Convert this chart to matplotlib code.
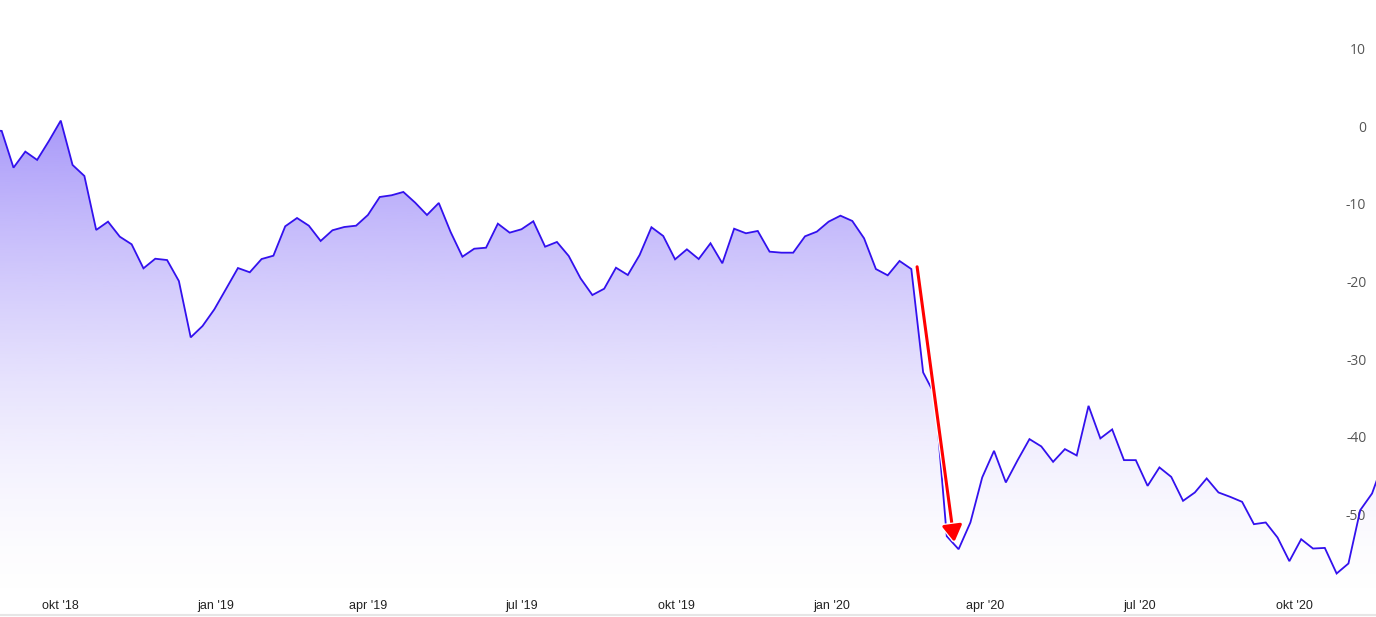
import numpy as np
import pandas as pd
import matplotlib
matplotlib.use("Agg")
import matplotlib.pyplot as plt
import matplotlib.dates as mdates
import matplotlib.patheffects as pe

# ---- data -------------------------------------------------------------
start_date = "2018-08-20"
values = [
    -0.45,
    -0.58, -5.32, -3.25, -4.32, -1.87, 0.75, -4.97, -6.39, -13.35, -12.28,
    -14.22, -15.20, -18.30, -17.06, -17.23, -19.94, -27.20, -25.74, -23.59, -20.93,
    -18.26, -18.81, -17.10, -16.67, -12.88, -11.81, -12.80, -14.77, -13.39, -12.97,
    -12.80, -11.42, -9.10, -8.88, -8.45, -9.83, -11.42, -9.87, -13.61, -16.80,
    -15.77, -15.64, -12.54, -13.70, -13.26, -12.23, -15.51, -14.90, -16.71, -19.59,
    -21.74, -20.93, -18.22, -19.16, -16.58, -13.00, -14.13, -17.14, -15.85, -17.10,
    -15.07, -17.65, -13.19, -13.78, -13.48, -16.15, -16.28, -16.28, -14.17, -13.57,
    -12.28, -11.51, -12.19, -14.43, -18.39, -19.20, -17.35, -18.39, -31.72, -34.65,
    -52.84, -54.52, -51.07, -45.26, -41.83, -45.91, -43.03, -40.32, -41.26, -43.25,
    -41.61, -42.43, -36.03, -40.23, -39.07, -43.03, -43.03, -46.35, -43.97, -45.19,
    -48.28, -47.20, -45.39, -47.20, -47.77, -48.41, -51.29, -51.07, -53.01, -56.06,
    -53.23, -54.43, -54.35, -57.65, -56.36, -49.48, -47.33, -43.10,
]
dates = pd.date_range(start_date, periods=len(values), freq="7D")

x_tick_dates = ["2018-10-01", "2019-01-01", "2019-04-01", "2019-07-01", "2019-10-01",
                "2020-01-01", "2020-04-01", "2020-07-01", "2020-10-01"]
x_tick_labels = ["okt '18", "jan '19", "apr '19", "jul '19", "okt '19",
                 "jan '20", "apr '20", "jul '20", "okt '20"]
y_ticks = [10, 0, -10, -20, -30, -40, -50]
y_tick_labels = ["10", "0", "-10", "-20", "-30", "-40", "-50"]

x_range = ("2018-08-26 00:00", "2020-11-18 08:00")
y_range = (-63.0, 16.3)

arrow_start = ("2020-02-20 10:00", -18.1)
arrow_end = ("2020-03-13 12:00", -53.6)

# ---- figure -----------------------------------------------------------
fig = plt.figure(figsize=(13.76, 6.17), dpi=100)
ax = fig.add_axes([0.0, 2 / 617, 1.0, 615 / 617])

xnum = mdates.date2num(dates)
vals = np.array(values)
x0 = mdates.date2num(pd.Timestamp(x_range[0]))
x1 = mdates.date2num(pd.Timestamp(x_range[1]))

# gradient fill under the line
poly = ax.fill_between(xnum, vals, y_range[0], facecolor="none", edgecolor="none")
n = 400
f = np.linspace(0, 1, n)[:, None]          # 0 at top, 1 at bottom
alpha = 0.56 * (1 - f) ** 1.7
rgba = np.zeros((n, 1, 4))
rgba[..., 0] = 100 / 255
rgba[..., 1] = 72 / 255
rgba[..., 2] = 245 / 255
rgba[..., 3] = alpha
top_val = vals.max()
img = ax.imshow(rgba, aspect="auto", extent=[xnum[0], xnum[-1], y_range[0], top_val],
                origin="upper", zorder=1, interpolation="bilinear")
img.set_clip_path(poly.get_paths()[0], transform=ax.transData)

ax.plot(xnum, vals, color="#3311ee", lw=1.3, zorder=3, solid_joinstyle="miter")
ax.set_xlim(x0, x1)
ax.set_ylim(*y_range)

# red arrow
sx = mdates.date2num(pd.Timestamp(arrow_start[0]))
ex = mdates.date2num(pd.Timestamp(arrow_end[0]))
ann = ax.annotate("", xy=(ex, arrow_end[1]), xytext=(sx, arrow_start[1]),
                  arrowprops=dict(arrowstyle="-|>,head_length=0.5,head_width=0.3",
                                  color="#ff0000", lw=2.2, mutation_scale=20,
                                  shrinkA=0, shrinkB=0), zorder=4)
ann.arrow_patch.set_path_effects([pe.Stroke(linewidth=4.0, foreground="white"), pe.Normal()])

# axes styling
for s in ["top", "left", "right"]:
    ax.spines[s].set_visible(False)
ax.spines["bottom"].set_color("#e6e6e6")
ax.spines["bottom"].set_linewidth(1.5)
ax.set_facecolor("white")

ax.set_xticks(mdates.date2num(pd.to_datetime(x_tick_dates)))
ax.set_xticklabels(x_tick_labels, fontfamily="Liberation Sans", fontsize=9, color="#222222")
ax.tick_params(axis="x", length=0, pad=-10.5)

ax.yaxis.tick_right()
ax.set_yticks(y_ticks)
ax.set_yticklabels(y_tick_labels, fontfamily="Open Sans", fontsize=10, color="#555555")
ax.tick_params(axis="y", length=0, pad=-7)
for lab in ax.get_yticklabels():
    lab.set_horizontalalignment("right")

fig.savefig("out.png", dpi=100, facecolor="white")
